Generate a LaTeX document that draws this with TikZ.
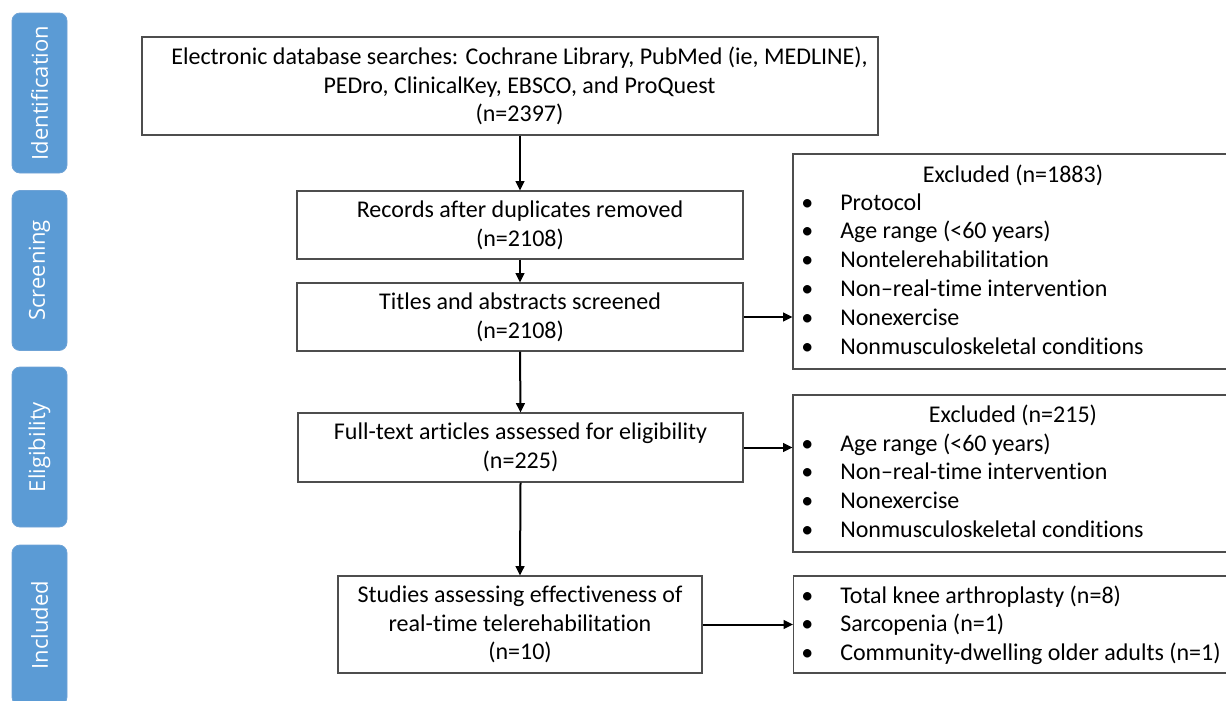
\documentclass[tikz,border=0pt]{standalone}
\usepackage{fontspec}
\setmainfont[Ligatures={TeX,NoCommon}]{Carlito}
\newfontfamily\tabfont{Open Sans}
\usetikzlibrary{arrows.meta}
\definecolor{tabblue}{HTML}{5B9BD5}
\definecolor{tabedge}{HTML}{6FA3D6}
\definecolor{boxedge}{HTML}{4D4D4D}
\newcommand\bitem{\makebox[29.25pt][l]{\textbullet}}
\begin{document}
\begin{tikzpicture}[x=0.75pt,y=-0.75pt,
  phase/.style={draw=tabedge, fill=tabblue, rounded corners=6pt, line width=0.6pt,
    minimum width=120pt, minimum height=41.25pt, rotate=90, text=white,
    font=\tabfont\fontsize{16.5}{18}\selectfont, inner sep=0pt},
  box/.style={draw=boxedge, line width=0.8pt, inner sep=0pt},
  txt/.style={font=\fontsize{18}{21.6}\selectfont, inner sep=0pt, text=black},
  arr/.style={line width=1.5pt, -{Triangle[length=7pt,width=6.5pt]}}
]
\useasboundingbox (0,0) rectangle (1226,700);
\clip (0,0) rectangle (1226,700);

% phase tabs
\node[phase] (tid) at (39.5,93) {Identification};
\node[phase] (tsc) at (39.5,270.5) {Screening};
\node[phase] (tel) at (39.5,447) {Eligibility};
\node[phase] (tin) at (39.5,625) {Included};

% main flow
\node[box, minimum width=552pt, minimum height=73.5pt] (b1) at (510,86) {};
\node[txt, align=center] (b1t) at (519.5,86)
  {Electronic database searches: Cochrane Library, PubMed (ie, MEDLINE),\\
   PEDro, ClinicalKey, EBSCO, and ProQuest\\(n=2397)};

\node[box, txt, align=center, minimum width=334.5pt, minimum height=51pt] (b2) at (520,225)
  {Records after duplicates removed\\(n=2108)};
\node[box, txt, align=center, minimum width=334.5pt, minimum height=51pt] (b3) at (520,317)
  {Titles and abstracts screened\\(n=2108)};
\node[box, txt, align=center, minimum width=333.75pt, minimum height=51.75pt] (b4) at (520.5,447.5)
  {Full-text articles assessed for eligibility\\(n=225)};
\node[box, txt, align=center, minimum width=273pt, minimum height=72.75pt] (b5) at (520,624.5)
  {Studies assessing effectiveness of\\real-time telerehabilitation\\(n=10)};

% side boxes
\node[box, minimum width=330pt, minimum height=161.25pt] (ex1) at (1013,261.5) {};
\node[txt, anchor=base] (ex1t) at (1013,182) {Excluded (n=1883)};
\node[txt, anchor=base west, align=left] (ex1l) at (801,354)
  {\bitem Protocol\\ \bitem Age range (<60 years)\\ \bitem Nontelerehabilitation\\
   \bitem Non--real-time intervention\\ \bitem Nonexercise\\ \bitem Nonmusculoskeletal conditions};

\node[box, minimum width=330pt, minimum height=117.75pt] (ex2) at (1013,473.5) {};
\node[txt, anchor=base] (ex2t) at (1013,422) {Excluded (n=215)};
\node[txt, anchor=base west, align=left] (ex2l) at (801,537.5)
  {\bitem Age range (<60 years)\\ \bitem Non--real-time intervention\\
   \bitem Nonexercise\\ \bitem Nonmusculoskeletal conditions};

\node[box, minimum width=330pt, minimum height=72.75pt] (inc) at (1013.5,624.5) {};
\node[txt, anchor=base west, align=left] (incl) at (801,660.6)
  {\bitem Total knee arthroplasty (n=8)\\ \bitem Sarcopenia (n=1)\\
   \bitem Community-dwelling older adults (n=1)};

% connectors
\draw[arr] (b1.south -| b2.north) -- (b2.north);
\draw[arr] (b2.south) -- (b3.north);
\draw[arr] (b3.east) -- (b3.east -| ex1.west);
\draw[arr] (b3.south) -- (b4.north);
\draw[arr] (b4.east) -- (b4.east -| ex2.west);
\draw[arr] (b4.south) -- (b5.north);
\draw[arr] (b5.east) -- (b5.east -| inc.west);
\end{tikzpicture}
\end{document}
